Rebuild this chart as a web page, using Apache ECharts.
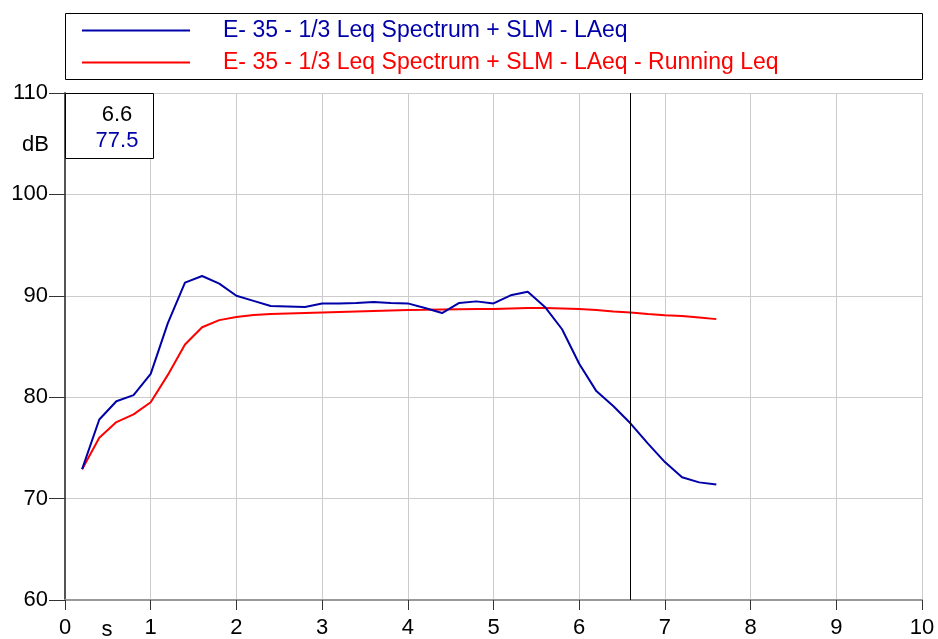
<!DOCTYPE html>
<html>
<head>
<meta charset="utf-8">
<script src="https://cdn.jsdelivr.net/npm/echarts@6/dist/echarts.min.js"></script>
<style>
  html, body { margin: 0; padding: 0; background: #fff; }
  #chart { width: 938px; height: 639px; }
</style>
</head>
<body>
<div id="chart"></div>
<script>
  // time axis (s), 0.2 s steps
  var times = [0.2, 0.4, 0.6, 0.8, 1.0, 1.2, 1.4, 1.6, 1.8, 2.0,
               2.2, 2.4, 2.6, 2.8, 3.0, 3.2, 3.4, 3.6, 3.8, 4.0,
               4.2, 4.4, 4.6, 4.8, 5.0, 5.2, 5.4, 5.6, 5.8, 6.0,
               6.2, 6.4, 6.6, 6.8, 7.0, 7.2, 7.4, 7.6];
  // LAeq (dB)
  var laeq = [72.9, 77.8, 79.6, 80.2, 82.3, 87.3, 91.3, 91.95, 91.2, 90.0,
              89.5, 89.0, 88.95, 88.9, 89.25, 89.25, 89.3, 89.4, 89.3, 89.25,
              88.8, 88.3, 89.3, 89.45, 89.25, 90.05, 90.4, 88.9, 86.7, 83.3,
              80.6, 79.1, 77.4, 75.45, 73.6, 72.1, 71.6, 71.4];
  // LAeq running Leq (dB)
  var runningLeq = [72.9, 76.0, 77.55, 78.3, 79.5, 82.2, 85.2, 86.9, 87.6, 87.9,
                    88.1, 88.2, 88.25, 88.3, 88.35, 88.4, 88.45, 88.5, 88.55, 88.6,
                    88.62, 88.65, 88.68, 88.7, 88.7, 88.75, 88.8, 88.8, 88.75, 88.7,
                    88.6, 88.45, 88.35, 88.2, 88.07, 88.0, 87.85, 87.7];
  var seriesNames = ['E- 35 - 1/3 Leq Spectrum + SLM - LAeq',
                     'E- 35 - 1/3 Leq Spectrum + SLM - LAeq - Running Leq'];
  var cursorTime = 6.6;
  var cursorValue = '77.5';

  function pairs(xs, ys) {
    return xs.map(function (x, i) { return [x, ys[i]]; });
  }

  var font = 'Liberation Sans, Arial, sans-serif';
  var blue = '#0000a8';
  var red = '#ff0000';

  var myChart = echarts.init(document.getElementById('chart'));
  myChart.setOption({
    animation: false,
    backgroundColor: '#fff',
    textStyle: { fontFamily: font },
    grid: { left: 65, right: 16, top: 93, bottom: 39, containLabel: false },
    legend: {
      orient: 'vertical',
      left: 81,
      top: 19,
      itemWidth: 108,
      itemHeight: 24,
      itemGap: 9,
      padding: 0,
      itemStyle: { opacity: 0 },
      textStyle: { fontSize: 23, fontFamily: font, padding: [0, 0, 0, 28] },
      data: [
        { name: seriesNames[0], textStyle: { color: blue } },
        { name: seriesNames[1], textStyle: { color: red } }
      ]
    },
    xAxis: {
      type: 'value',
      min: 0,
      max: 10,
      interval: 1,
      axisLine: { show: true, lineStyle: { color: '#999', width: 2 } },
      axisTick: { show: true, length: 10, lineStyle: { color: '#333' } },
      axisLabel: { color: '#000', fontSize: 22, margin: 17, fontFamily: font },
      splitLine: { show: true, lineStyle: { color: '#ccc', width: 1 } }
    },
    yAxis: {
      type: 'value',
      min: 60,
      max: 110,
      interval: 10,
      axisLine: { show: true, lineStyle: { color: '#555', width: 2 } },
      axisTick: { show: true, length: 16, lineStyle: { color: '#333' } },
      axisLabel: { color: '#000', fontSize: 22, margin: 17, fontFamily: font },
      splitLine: { show: true, lineStyle: { color: '#ccc', width: 1 } }
    },
    graphic: [
      {
        type: 'rect', left: 65, top: 13, z: 0,
        shape: { width: 857, height: 66 },
        style: { fill: '#fff', stroke: '#000', lineWidth: 1 }
      },
      {
        type: 'rect', left: 65, top: 93, z: 100,
        shape: { width: 88, height: 65 },
        style: { fill: '#fff', stroke: '#000', lineWidth: 1 }
      },
      {
        type: 'text', x: 117, y: 115, z: 101,
        style: { text: String(cursorTime), fill: '#000', font: '22px ' + font, align: 'center', verticalAlign: 'middle' }
      },
      {
        type: 'text', x: 117, y: 141, z: 101,
        style: { text: cursorValue, fill: blue, font: '22px ' + font, align: 'center', verticalAlign: 'middle' }
      },
      {
        type: 'text', x: 49, y: 145, z: 101,
        style: { text: 'dB', fill: '#000', font: '22px ' + font, align: 'right', verticalAlign: 'middle' }
      },
      {
        type: 'text', x: 107, y: 630, z: 101,
        style: { text: 's', fill: '#000', font: '22px ' + font, align: 'center', verticalAlign: 'middle' }
      }
    ],
    series: [
      {
        name: seriesNames[0],
        type: 'line',
        data: pairs(times, laeq),
        symbol: 'none',
        lineStyle: { color: blue, width: 2 },
        itemStyle: { color: blue },
        z: 3,
        markLine: {
          silent: true,
          symbol: 'none',
          label: { show: false },
          lineStyle: { color: '#000', width: 1, type: 'solid' },
          data: [{ xAxis: cursorTime }]
        }
      },
      {
        name: seriesNames[1],
        type: 'line',
        data: pairs(times, runningLeq),
        symbol: 'none',
        lineStyle: { color: red, width: 2 },
        itemStyle: { color: red },
        z: 2
      }
    ]
  });
</script>
</body>
</html>
